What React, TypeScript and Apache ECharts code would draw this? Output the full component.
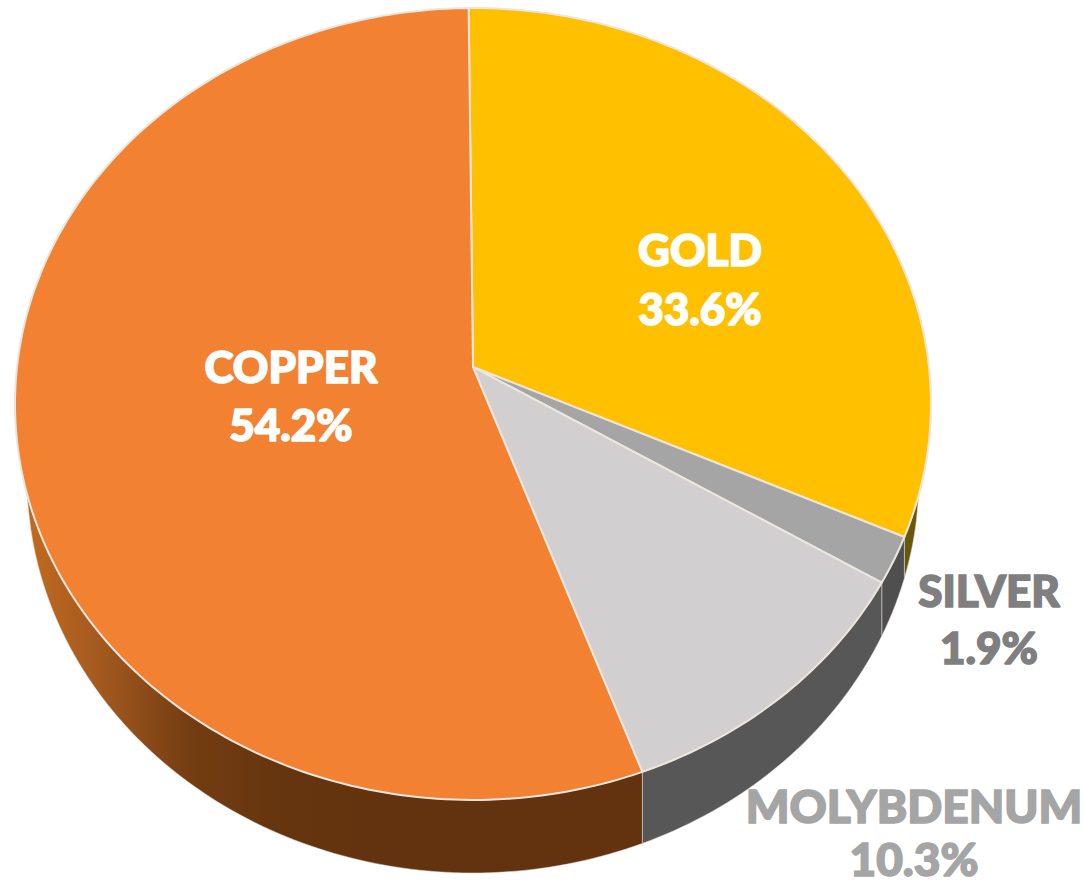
import React, { useEffect, useRef } from "react";
import * as echarts from "echarts";

const metals = ["COPPER", "GOLD", "SILVER", "MOLYBDENUM"];
const shares = [54.2, 33.6, 1.9, 10.3];

// clockwise from 12 o'clock, drawing order of the wedges
const wedgeOrder = [1, 2, 3, 0];

const faceColors = ["#F28132", "#FFC000", "#A5A5A5", "#D1CFCF"];
const labelColors = ["#FFFFFF", "#FFFFFF", "#7F7F7F", "#A5A5A5"];
const labelX = [291, 700, 989, 914];
const nameY = [366, 249, 590, 805];
const shareY = [424, 308, 647, 858];
const labelSize = [44, 44, 44, 46];

const W = 1084;
const H = 881;
const APEX = { x: 473, y: 367 };
const K = -0.0934;
const BX = 456;
const BY = 392.5;
const FLOOR = { x: 473, y: 478, rx: 446, ry: 395 };
const SIDE_FROM_Y = 490;

// Piecewise correction of the chart's 3-D view: share of the pie (cumulative, clockwise) -> rectified angle.
const viewShare = [0, 33.6, 35.5, 45.8, 100];
const viewAngle = [-0.6, 114.6, 121.5, 160.2, 359.4];

function warp(share: number) {
  for (let i = 1; i < viewShare.length; i++) {
    if (share <= viewShare[i] + 1e-9) {
      const t = (share - viewShare[i - 1]) / (viewShare[i] - viewShare[i - 1]);
      return viewAngle[i - 1] + t * (viewAngle[i] - viewAngle[i - 1]);
    }
  }
  return viewAngle[viewAngle.length - 1];
}

function rim(deg: number) {
  const r = (deg * Math.PI) / 180;
  const u = Math.sin(r);
  const v = -Math.cos(r);
  const w = 1 + K * v;
  return [APEX.x + (BX * u) / w, APEX.y + (BY * v) / w];
}

function drop(p: number[]) {
  if (p[1] < SIDE_FROM_Y) return p;
  const d = (p[0] - FLOOR.x) / FLOOR.rx;
  if (Math.abs(d) >= 1) return p;
  const y = FLOOR.y + FLOOR.ry * Math.sqrt(1 - d * d);
  return [p[0], Math.max(p[1], y)];
}

function arc(a: number, b: number) {
  const pts: number[][] = [];
  const n = Math.max(2, Math.ceil(Math.abs(b - a)));
  for (let i = 0; i <= n; i++) pts.push(rim(a + ((b - a) * i) / n));
  return pts;
}

const cumulative = (idx: number) => {
  let s = 0;
  for (let i = 0; i < idx; i++) s += shares[wedgeOrder[i]];
  return s;
};

function sideFill(metal: number) {
  if (metal === 0) {
    return new echarts.graphic.LinearGradient(
      25 / W, 0, 640 / W, 0,
      [
        { offset: 0, color: "#C06A1F" },
        { offset: 0.17, color: "#A85C20" },
        { offset: 0.45, color: "#743D12" },
        { offset: 0.7, color: "#65350F" },
        { offset: 1, color: "#63330F" },
      ],
      false
    );
  }
  return ["", "#6A560C", "#4F4F4F", "#575757"][metal];
}

const labelLine = (text: string, i: number, y: number) => ({
  type: "text",
  x: labelX[i],
  y,
  z: 10,
  style: {
    text,
    fill: labelColors[i],
    stroke: labelColors[i],
    lineWidth: 1.6,
    lineJoin: "round",
    font: `900 ${labelSize[i]}px Lato, 'Open Sans', sans-serif`,
    lineHeight: 36,
    align: "center",
    verticalAlign: "middle",
  },
});

export default function App() {
  const ref = useRef<HTMLDivElement>(null);
  useEffect(() => {
    document.body.style.margin = "0";
    const chart = echarts.init(ref.current!, null, { renderer: "svg" });
    const slices = wedgeOrder.map((m, i) => ({
      value: [m, warp(cumulative(i)), warp(cumulative(i) + shares[m])],
      name: metals[m],
    }));
    chart.setOption({
      animation: false,
      backgroundColor: "#FFFFFF",
      series: [
        {
          type: "custom",
          coordinateSystem: "none",
          silent: true,
          z: 1,
          data: slices,
          renderItem: (_p: any, api: any) => {
            const m = api.value(0);
            const top = arc(api.value(1), api.value(2));
            const bottom = top.map(drop).reverse();
            return {
              type: "polygon",
              shape: { points: top.concat(bottom) },
              style: { fill: sideFill(m), stroke: "rgba(225,220,215,0.55)", lineWidth: 1 },
            };
          },
        },
        {
          type: "custom",
          coordinateSystem: "none",
          silent: true,
          z: 2,
          data: slices,
          renderItem: (_p: any, api: any) => {
            const m = api.value(0);
            const top = arc(api.value(1), api.value(2));
            return {
              type: "polygon",
              shape: { points: [[APEX.x, APEX.y], ...top] },
              style: { fill: faceColors[m], stroke: "#EDE6DF", lineWidth: 2, lineJoin: "round" },
            };
          },
        },
      ],
      graphic: metals.flatMap((name, i) => [
        labelLine(name, i, nameY[i]),
        labelLine(`${shares[i].toFixed(1)}%`, i, shareY[i]),
      ]),
    });
    return () => chart.dispose();
  }, []);
  return <div ref={ref} style={{ width: W, height: H }} />;
}
